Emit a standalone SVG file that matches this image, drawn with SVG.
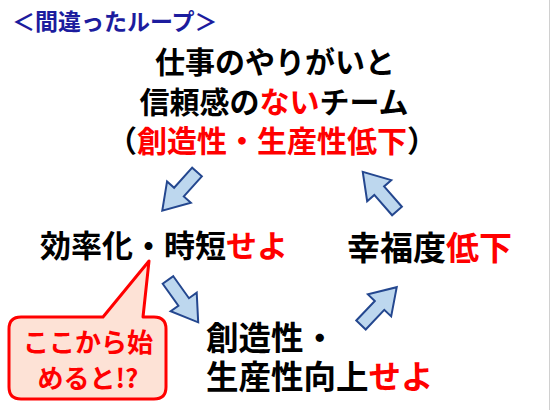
<svg xmlns="http://www.w3.org/2000/svg" width="550" height="410" viewBox="0 0 550 410">
<style>
text{font-family:"Noto Sans CJK JP","Noto Sans CJK SC",sans-serif;font-weight:bold}
.blk{fill:#000}
.red{fill:#ff0000}
.ttl{fill:#1c1c9e;font-size:23px}
.main{font-size:30px}
.node{font-size:31px}
.big{font-size:32.5px}
.arrow{fill:#bdd7ee;stroke:#24478f;stroke-width:2;stroke-linejoin:miter}
</style>
<defs>
<polygon id="blockArrow" points="0,-6.5 27,-6.5 27,-16 52,0 27,16 27,6.5 0,6.5"/>
</defs>
<rect width="550" height="410" fill="#fff"/>
<line x1="549.5" y1="0" x2="549.5" y2="410" stroke="#d0d0d0" stroke-width="1"/>
<g id="title">
<text class="ttl" x="12" y="30">＜間違ったループ＞</text>
</g>
<g id="top-node">
<text class="main blk" x="275" y="73" text-anchor="middle">仕事のやりがいと</text>
<text class="main blk" x="274" y="113" text-anchor="middle">信頼感の<tspan class="red">ない</tspan>チーム</text>
<text class="main blk" x="272" y="152" text-anchor="middle">（<tspan class="red">創造性・生産性低下</tspan>）</text>
</g>
<g id="left-node">
<text class="node blk" x="40" y="257">効率化・時短<tspan class="red">せよ</tspan></text>
</g>
<g id="right-node">
<text class="blk" font-size="33" x="347" y="260">幸福度<tspan class="red">低下</tspan></text>
</g>
<g id="bottom-node">
<text class="big blk" x="206" y="350">創造性・</text>
<text class="big blk" x="206" y="389">生産性向上<tspan class="red">せよ</tspan></text>
</g>
<g id="connectors">
<use href="#blockArrow" class="arrow" transform="translate(197,172) rotate(131.9)"/>
<use href="#blockArrow" class="arrow" transform="translate(397,211) rotate(228.8)"/>
<use href="#blockArrow" class="arrow" transform="translate(168,280) rotate(54.5)"/>
<use href="#blockArrow" class="arrow" transform="translate(361,325) rotate(-46.6)"/>
</g>
<g id="callout">
<path d="M21 317 L103 317 L149 261 L143 317 L154 317 Q166 317 166 329 L166 387 Q166 399 154 399 L21 399 Q9 399 9 387 L9 329 Q9 317 21 317 Z" fill="#fde2d6" stroke="#ff0000" stroke-width="3" stroke-linejoin="round"/>
<text class="red" x="88" y="352" text-anchor="middle" font-size="26">ここから始</text>
<text class="red" x="88" y="388" text-anchor="middle" font-size="26">めると!?</text>
</g>
</svg>
